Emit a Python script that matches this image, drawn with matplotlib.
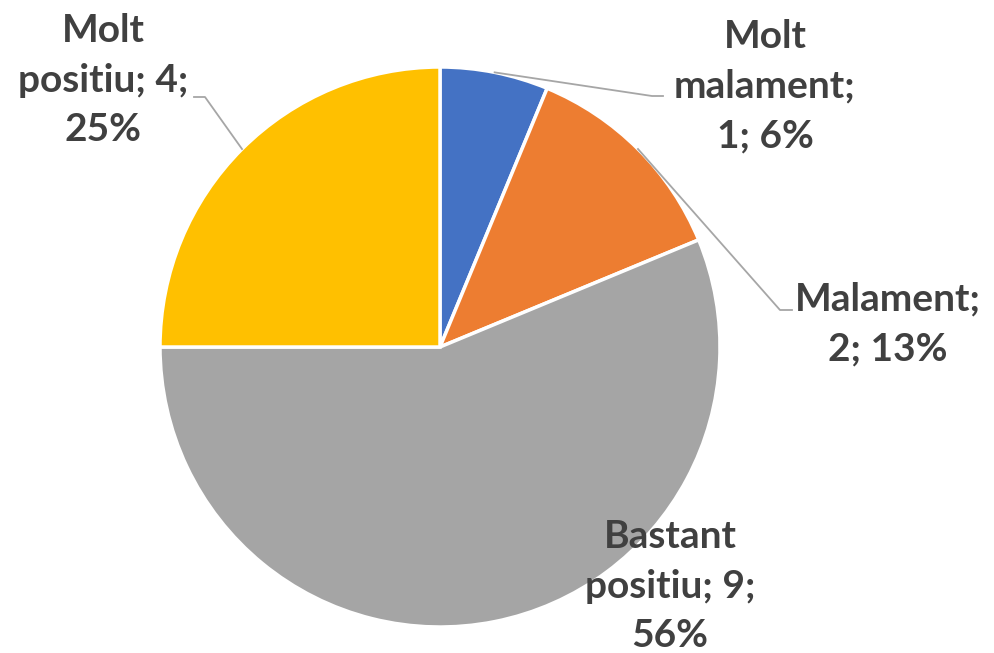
import numpy as np
import matplotlib.pyplot as plt

categories = ["Molt malament", "Malament", "Bastant positiu", "Molt positiu"]
values = [1, 2, 9, 4]
colors = ["#4472C4", "#ED7D31", "#A5A5A5", "#FFC000"]

# label text block centres and leader elbows, in pixels from top-left
label_pos = [(765, 86), (888, 324), (670, 586), (103, 80)]
elbows = [[(652, 96), (663, 96)], [(780, 310), (792, 310)], None, [(205, 97), (194, 97)]]

W, H = 994, 653
cx, cy, r = 440, 347, 280

fig = plt.figure(figsize=(W / 100, H / 100), dpi=100)
ax = fig.add_axes([0, 0, 1, 1])

wedges, _ = ax.pie(values, colors=colors, startangle=90, counterclock=False,
                   center=(cx, H - cy), radius=r,
                   wedgeprops=dict(edgecolor="white", linewidth=2.5))
ax.set_xlim(0, W)
ax.set_ylim(0, H)
ax.set_aspect("equal")
ax.axis("off")

total = sum(values)
for i, (name, v) in enumerate(zip(categories, values)):
    pct = int(100 * v / total + 0.5)
    if i == 0:
        txt = f"Molt\nmalament;\n{v}; {pct}%"
    elif i == 1:
        txt = f"Malament;\n{v}; {pct}%"
    elif i == 2:
        txt = f"Bastant\npositiu; {v};\n{pct}%"
    else:
        txt = f"Molt\npositiu; {v};\n{pct}%"
    lx, ly = label_pos[i]
    ax.text(lx, H - ly, txt, ha="center", va="center", multialignment="center",
            fontsize=28, fontweight="bold", color="#404040", family="Lato",
            linespacing=1.5)
    if elbows[i] is not None:
        w = wedges[i]
        mid = np.deg2rad((w.theta1 + w.theta2) / 2)
        px = cx + r * np.cos(mid)
        py = (H - cy) + r * np.sin(mid)
        xs = [px] + [p[0] for p in elbows[i]]
        ys = [py] + [H - p[1] for p in elbows[i]]
        ax.plot(xs, ys, color="#A6A6A6", lw=1.3)

fig.savefig("out.png", dpi=100)
